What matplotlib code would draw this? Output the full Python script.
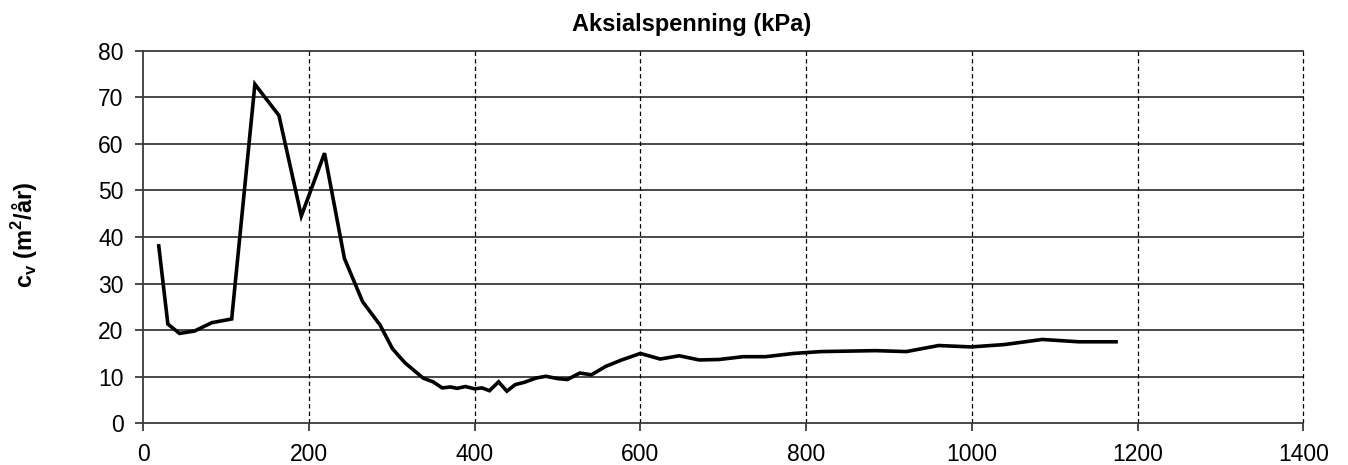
import matplotlib
matplotlib.use("Agg")
import matplotlib.pyplot as plt

plt.rcParams['font.family'] = ['Liberation Sans', 'DejaVu Sans']

# Data
aksialspenning = [19, 30, 44, 62, 83, 107, 135, 164, 191, 219, 243, 265, 286, 301, 316,
                  338, 350, 361, 371, 379, 389, 400, 409, 418, 429, 439, 449, 460, 474,
                  486, 500, 512, 527, 541, 558, 576, 600, 624, 647, 671, 695, 724, 751,
                  785, 818, 884, 921, 960, 999, 1039, 1085, 1129, 1174]
cv = [38.1, 21.3, 19.3, 19.8, 21.6, 22.4, 72.8, 66.1, 44.5, 58.0, 35.4, 26.1, 21.1, 16.0, 13.0,
      9.7, 8.9, 7.6, 7.8, 7.5, 7.9, 7.4, 7.6, 7.0, 8.9, 6.9, 8.3, 8.8, 9.7,
      10.1, 9.6, 9.4, 10.8, 10.4, 12.2, 13.5, 15.0, 13.8, 14.5, 13.6, 13.7, 14.3, 14.3,
      15.0, 15.4, 15.6, 15.4, 16.7, 16.4, 16.9, 18.0, 17.5, 17.5]
x_ticks = [0, 200, 400, 600, 800, 1000, 1200, 1400]
y_ticks = [0, 10, 20, 30, 40, 50, 60, 70, 80]

fig = plt.figure(figsize=(13.48, 4.65), dpi=100)
ax = fig.add_axes([143/1348, 1 - 423.3/465, (1303.4 - 143)/1348, (423.3 - 50.7)/465])

ax.set_xlim(0, 1400)
ax.set_ylim(0, 80)
ax.set_xticks(x_ticks)
ax.set_yticks(y_ticks)

# grid
for yv in y_ticks[1:]:
    ax.axhline(yv, color='#3a3a3a', lw=1.3, zorder=1, clip_on=False)
for xv in x_ticks[1:]:
    ax.axvline(xv, color='black', lw=0.9, ls=(0, (3.5, 2.5)), zorder=1, clip_on=False)

ax.plot(aksialspenning, cv, color='black', lw=2.6, solid_joinstyle='miter', zorder=3)

for s in ['top', 'right']:
    ax.spines[s].set_visible(False)
for s in ['left', 'bottom']:
    ax.spines[s].set_color('#3a3a3a')
    ax.spines[s].set_linewidth(1.3)

ax.tick_params(axis='both', direction='out', length=5.5, width=1.3, color='#3a3a3a',
               labelsize=16.5, pad=8.5)

fig.text(692/1348, 1 - 25/465, 'Aksialspenning (kPa)', ha='center', va='center',
         fontsize=17, fontweight='bold')
fig.text(25/1348, 1 - 235/465, r'c$_\mathregular{v}$ (m$^\mathregular{2}$/år)', ha='center', va='center',
         rotation=90, fontsize=17, fontweight='bold')

fig.savefig('out.png', dpi=100)
